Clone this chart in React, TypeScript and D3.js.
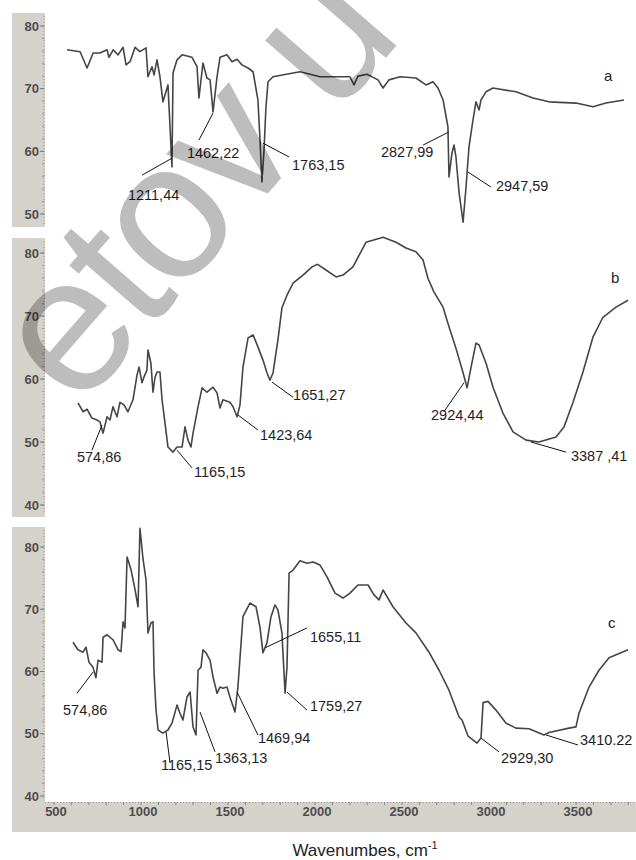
import React from 'react';
import * as d3 from 'd3';

// IR spectra, [wavenumber, transmittance]
const spectrumA: [number, number][] = [
  [575, 76.2], [650, 75.9], [690, 73.3], [725, 75.7], [764, 75.7], [805, 76.2], [816, 75], [840, 76.2],
  [868, 75.4], [897, 76.6], [914, 73.8], [937, 74.3], [966, 76.6], [994, 75.9], [1029, 76.5], [1040, 71.9],
  [1063, 73.5], [1075, 72.2], [1092, 74.6], [1109, 71.9], [1126, 67.9], [1155, 70.6], [1178, 57.5], [1184, 72.5],
  [1207, 74.6], [1236, 75.4], [1293, 75], [1322, 73.5], [1333, 68.5], [1356, 74.1], [1379, 71.7], [1397, 71.4],
  [1414, 66.3], [1437, 71.9], [1454, 75], [1494, 75.4], [1523, 74.3], [1552, 74.7], [1580, 73.8], [1615, 73.3],
  [1644, 72.7], [1672, 68.2], [1684, 61.8], [1695, 55.1], [1707, 60.2], [1718, 67], [1730, 71.1], [1759, 71.9],
  [1874, 72.5], [1914, 72.7], [2029, 71.9], [2103, 71.9], [2201, 71.9], [2224, 70.6], [2247, 72], [2299, 72.3],
  [2362, 71.4], [2391, 70.1], [2425, 71.4], [2489, 71.9], [2580, 71.7], [2638, 70.6], [2678, 71.1], [2707, 70.1],
  [2736, 68.2], [2764, 63.9], [2770, 55.9], [2787, 59.7], [2799, 61], [2810, 59.1], [2828, 53.4], [2851, 48.7],
  [2868, 54.3], [2885, 60.7], [2908, 65], [2925, 67.9], [2943, 66.6], [2954, 68.2], [2983, 69.5], [3023, 70.1],
  [3155, 69.5], [3253, 68.5], [3345, 67.9], [3500, 67.7], [3598, 67.1], [3672, 67.7], [3776, 68.2],
];

const spectrumB: [number, number][] = [
  [638, 56.2], [667, 54.8], [690, 55.2], [718, 53.8], [747, 53.5], [764, 53.2], [782, 51.4], [805, 54],
  [822, 53.5], [839, 55.6], [862, 54], [879, 56.3], [902, 55.9], [925, 54.8], [954, 56.7], [977, 60.6],
  [989, 61.9], [1006, 59.4], [1017, 60.3], [1034, 61.4], [1040, 64.6], [1057, 62.5], [1069, 57.9], [1080, 60.2],
  [1092, 61.1], [1109, 61.1], [1121, 56.7], [1138, 53], [1155, 49.2], [1184, 48.4], [1207, 49.2], [1236, 49.2],
  [1253, 52.4], [1270, 50.3], [1287, 49.2], [1299, 51.4], [1328, 55.6], [1351, 58.6], [1379, 57.9], [1414, 58.7],
  [1437, 57.8], [1454, 55.4], [1471, 56.7], [1511, 56.3], [1529, 55.6], [1552, 54], [1569, 55.9], [1586, 61.9],
  [1615, 66.5], [1644, 67], [1672, 65.1], [1701, 63], [1724, 61], [1741, 59.8], [1759, 61], [1787, 66.2],
  [1810, 71.3], [1839, 73.3], [1874, 75.2], [1931, 76.5], [1983, 77.8], [2015, 78.2], [2063, 77.3], [2121, 76.2],
  [2161, 76.5], [2218, 77.8], [2293, 81.7], [2391, 82.5], [2466, 81.7], [2523, 80.8], [2580, 80.2], [2621, 78.9],
  [2649, 76], [2684, 73.8], [2736, 71.4], [2770, 68.3], [2810, 64.9], [2851, 61], [2874, 58.6], [2897, 61.9],
  [2925, 65.7], [2943, 65.4], [2983, 62.5], [3023, 58.7], [3080, 54.6], [3138, 51.6], [3213, 50.3], [3287, 50],
  [3385, 50.8], [3431, 52.4], [3483, 56.3], [3540, 61.1], [3598, 66.7], [3655, 69.8], [3730, 71.4], [3799, 72.5],
];

const spectrumC: [number, number][] = [
  [609, 64.7], [638, 63.5], [667, 63.1], [684, 63.9], [701, 61.5], [724, 60.7], [741, 59], [753, 61.8],
  [776, 61.5], [782, 65.5], [805, 65.9], [839, 65.1], [868, 63.5], [885, 63.2], [897, 68], [908, 67],
  [920, 78.4], [943, 76.3], [966, 73.1], [983, 70.4], [994, 83], [1011, 78.2], [1029, 74.7], [1040, 66.2],
  [1057, 67.8], [1069, 68], [1075, 59.8], [1086, 54], [1098, 50.6], [1126, 50.1], [1155, 50.6], [1178, 51.7],
  [1207, 54.6], [1224, 53.3], [1241, 52.2], [1264, 55.9], [1282, 56.7], [1299, 51.1], [1316, 49.8], [1328, 60.2],
  [1345, 60.7], [1356, 63.5], [1374, 63], [1397, 61.8], [1414, 59.1], [1437, 56.5], [1454, 57.5], [1471, 57.3],
  [1494, 57.5], [1511, 55.9], [1540, 53.5], [1557, 57.5], [1586, 68.8], [1626, 71], [1661, 70.4], [1684, 67.1],
  [1701, 63], [1724, 64.6], [1747, 68.8], [1770, 70.7], [1787, 69.9], [1810, 66.2], [1828, 56.5], [1839, 60.7],
  [1851, 75.8], [1874, 76.3], [1914, 77.8], [1954, 77.4], [1989, 77.6], [2029, 77.1], [2069, 75.2], [2115, 72.6],
  [2161, 71.8], [2201, 72.6], [2247, 73.9], [2305, 73.9], [2339, 72.3], [2368, 71.5], [2391, 73.1], [2448, 70.4],
  [2523, 67.8], [2580, 66.2], [2655, 63.1], [2713, 60.2], [2770, 57], [2828, 52.7], [2845, 52.2], [2880, 49.6],
  [2931, 48.5], [2954, 49.3], [2966, 55], [2994, 55.2], [3040, 53.8], [3098, 51.7], [3155, 50.9], [3230, 50.8],
  [3316, 49.8], [3345, 50.2], [3460, 50.9], [3500, 51.1], [3517, 53.3], [3575, 57.5], [3632, 60.2], [3690, 62.2],
  [3799, 63.5],
];

type Note = { text: string; from: [number, number]; to: [number, number]; at: [number, number] };

const notesA: Note[] = [
  { text: '1211,44', from: [1178, 58.9], to: [1006, 56.2], at: [925, 52.2] },
  { text: '1462,22', from: [1414, 66.1], to: [1333, 61.8], at: [1264, 58.9] },
  { text: '1763,15', from: [1701, 61.3], to: [1851, 59.1], at: [1868, 57] },
  { text: '2827,99', from: [2770, 63.1], to: [2621, 61], at: [2379, 59.1] },
  { text: '2947,59', from: [2879, 56.7], to: [3011, 54.3], at: [3040, 53.7] },
];
const notesB: Note[] = [
  { text: '574,86', from: [776, 52.7], to: [718, 48.7], at: [632, 46.8] },
  { text: '1165,15', from: [1207, 48.7], to: [1293, 45.9], at: [1305, 44.4] },
  { text: '1423,64', from: [1557, 54.3], to: [1672, 51.9], at: [1684, 50.3] },
  { text: '1651,27', from: [1753, 59.5], to: [1874, 57.1], at: [1874, 56.7] },
  { text: '2924,44', from: [2856, 59.4], to: [2741, 54.8], at: [2667, 53.5] },
  { text: '3387 ,41', from: [3241, 50], to: [3443, 48.4], at: [3471, 47] },
];
const notesC: Note[] = [
  { text: '574,86', from: [724, 59.9], to: [632, 56.5], at: [552, 53] },
  { text: '1165,15', from: [1144, 50.3], to: [1167, 45.3], at: [1115, 44.2] },
  { text: '1363,13', from: [1339, 53.5], to: [1425, 47.1], at: [1425, 45.3] },
  { text: '1469,94', from: [1552, 56.7], to: [1672, 49.8], at: [1672, 48.5] },
  { text: '1655,11', from: [1713, 63.8], to: [1954, 67], at: [1971, 64.7] },
  { text: '1759,27', from: [1839, 56.7], to: [1954, 53.8], at: [1971, 53.6] },
  { text: '2929,30', from: [2954, 49.3], to: [3057, 47.1], at: [3069, 45.3] },
  { text: '3410.22', from: [3328, 49.8], to: [3511, 48.2], at: [3523, 48.2] },
];

const xTicks = [500, 1000, 1500, 2000, 2500, 3000, 3500];
const yTicksA = [50, 60, 70, 80];
const yTicksBC = [40, 50, 60, 70, 80];
const panelLetters = [
  { name: 'a', at: [3661, 71.2] },
  { name: 'b', at: [3701, 75.2] },
  { name: 'c', at: [3684, 67] },
];

const FONT = '"Liberation Sans", Arial, sans-serif';
const STRIP = '#d5d2cb';

const x = d3.scaleLinear().domain([500, 3500]).range([54, 576]);
const line = (y: d3.ScaleLinear<number, number>) =>
  d3.line<[number, number]>().x(d => x(d[0])).y(d => y(d[1]));

function Panel({ data, notes, y, ticks, top, bottom, letter }: {
  data: [number, number][]; notes: Note[]; y: d3.ScaleLinear<number, number>;
  ticks: number[]; top: number; bottom: number; letter: { name: string; at: number[] };
}) {
  const [d0, d1] = y.domain();
  const minor = d3.range(Math.ceil(d0), Math.floor(d1) + 1, 2).filter(v => y(v) >= top && y(v) <= bottom);
  return (
    <g>
      <rect x={12} y={top} width={33} height={bottom - top} fill={STRIP} />
      <line x1={44} x2={44} y1={top + 3} y2={bottom - 3} stroke="#9a9890" strokeDasharray="1,2" />
      {minor.map(v => (
        <line key={'m' + v} x1={42} x2={44} y1={y(v)} y2={y(v)} stroke="#9a9890" />
      ))}
      {ticks.map(t => (
        <g key={t}>
          <line x1={40} x2={44} y1={y(t)} y2={y(t)} stroke="#777" />
          <text x={39} y={y(t) + 4.5} textAnchor="end" fontSize={13} fontWeight="bold" fill="#4d4d4d" fontFamily={FONT}>{t}</text>
        </g>
      ))}
      <path d={line(y)(data) || ''} fill="none" stroke="#454545" strokeWidth={1.6} strokeLinejoin="round" />
      {notes.map(n => (
        <g key={n.text}>
          <line x1={x(n.from[0])} y1={y(n.from[1])} x2={x(n.to[0])} y2={y(n.to[1])} stroke="#111" strokeWidth={1} />
          <text x={x(n.at[0])} y={y(n.at[1])} fontSize={14.5} fill="#1e1e28" fontFamily={FONT}>{n.text}</text>
        </g>
      ))}
      <text x={x(letter.at[0])} y={y(letter.at[1])} fontSize={15} fill="#1e1e28" fontFamily={FONT}>{letter.name}</text>
    </g>
  );
}

export default function App() {
  const yA = d3.scaleLinear().domain([50, 80]).range([214, 26]);
  const yB = d3.scaleLinear().domain([40, 80]).range([505, 253]);
  const yC = d3.scaleLinear().domain([40, 80]).range([796, 547]);
  const minorX = d3.range(500, 3900, 100);
  return (
    <svg width={636} height={860} style={{ position: 'absolute', left: 0, top: 0, background: '#fff' }}>
      <Panel data={spectrumA} notes={notesA} y={yA} ticks={yTicksA} top={13} bottom={227} letter={panelLetters[0]} />
      <Panel data={spectrumB} notes={notesB} y={yB} ticks={yTicksBC} top={238} bottom={517} letter={panelLetters[1]} />
      <rect x={12} y={802} width={624} height={30} fill={STRIP} />
      <Panel data={spectrumC} notes={notesC} y={yC} ticks={yTicksBC} top={527} bottom={802} letter={panelLetters[2]} />
      <line x1={45} x2={636} y1={802.5} y2={802.5} stroke="#9a9890" strokeDasharray="1,2" />
      {minorX.map(v => (
        <line key={v} x1={x(v)} x2={x(v)} y1={802} y2={805} stroke="#8a8880" />
      ))}
      {xTicks.map(t => (
        <text key={t} x={x(t) + 2} y={816} textAnchor="middle" fontSize={13} fontWeight="bold" fill="#4d4d4d" fontFamily={FONT}>{t}</text>
      ))}
      <text x={365} y={856} textAnchor="middle" fontSize={17} fill="#222" fontFamily={FONT}>
        Wavenumbes, cm<tspan dy={-7} fontSize={11}>-1</tspan>
      </text>
      <text transform="translate(78,412) rotate(-49)" fontSize={194} letterSpacing={-6} fill="#000" fillOpacity={0.26} fontFamily={FONT}>etov u</text>
    </svg>
  );
}
